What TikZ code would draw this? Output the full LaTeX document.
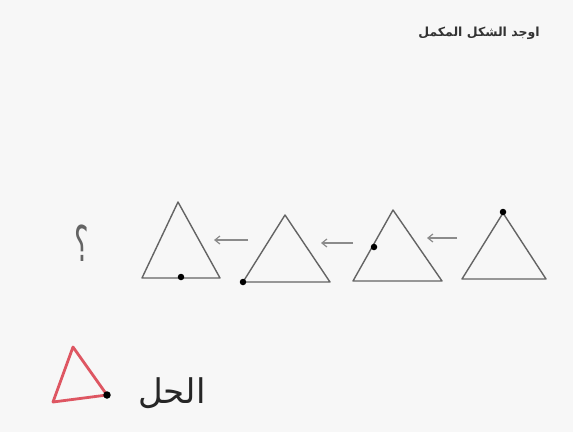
\documentclass[tikz,border=0pt]{standalone}
\usepackage{fontspec}
\usetikzlibrary{arrows.meta}
\TeXXeTstate=1
\newfontfamily\arabicfont[Script=Arabic]{DejaVu Sans}
\definecolor{bgc}{RGB}{247,247,247}
\definecolor{penc}{RGB}{100,100,100}
\definecolor{redpen}{RGB}{222,86,98}
\begin{document}
\begin{tikzpicture}[x=1pt,y=-1pt,
  tri/.style={draw=penc,line width=1.4pt,line join=round},
  arr/.style={draw=penc!75,line width=1.2pt,-{Straight Barb[length=5pt,width=8pt]}},
  pt/.style={circle,fill=black,inner sep=0pt,minimum size=6.5pt}]
\fill[bgc] (0,0) rectangle (573,432);
\useasboundingbox (0,0) rectangle (573,432);
% title
\node[font=\arabicfont\bfseries\fontsize{12.5}{15}\selectfont,text=black!80] (title) at (479,33) {\beginR اوجد الشكل المكمل\endR};
% triangle vertices
\coordinate (a1) at (178,202); \coordinate (b1) at (142,278); \coordinate (c1) at (220,278);
\coordinate (a2) at (285,215); \coordinate (b2) at (243,282); \coordinate (c2) at (330,282);
\coordinate (a3) at (393,210); \coordinate (b3) at (353,281); \coordinate (c3) at (442,281);
\coordinate (a4) at (503,213); \coordinate (b4) at (462,279); \coordinate (c4) at (546,279);
\draw[tri] (a1) -- (b1) -- (c1) -- cycle;
\draw[tri] (a2) -- (b2) -- (c2) -- cycle;
\draw[tri] (a3) -- (b3) -- (c3) -- cycle;
\draw[tri] (a4) -- (b4) -- (c4) -- cycle;
% dots
\node[pt] (d1) at (181,277) {};
\node[pt] (d2) at (243,282) {};
\node[pt] (d3) at (374,247) {};
\node[pt] (d4) at (503,212) {};
% arrows
\coordinate (s1) at (248,240); \coordinate (e1) at (214,240);
\coordinate (s2) at (353,243); \coordinate (e2) at (321,243);
\coordinate (s3) at (457,238); \coordinate (e3) at (427,238);
\draw[arr] (s1) -- (e1);
\draw[arr] (s2) -- (e2);
\draw[arr] (s3) -- (e3);
% question mark
\node[font=\arabicfont\fontsize{34}{36}\selectfont,text=penc,yscale=1.45,xscale=0.8] (q) at (82,243) {\beginR ؟\endR};
% answer
\coordinate (ra) at (73,347); \coordinate (rb) at (53,402); \coordinate (rc) at (107,395);
\draw[draw=redpen,line width=2.8pt,line join=round] (ra) -- (rb) -- (rc) -- cycle;
\node[pt,minimum size=7.5pt] (rd) at (107,395) {};
\node[font=\arabicfont\fontsize{34}{38}\selectfont,text=black!85] (ans) at (172,393) {\beginR الحل\endR};
\end{tikzpicture}
\end{document}
